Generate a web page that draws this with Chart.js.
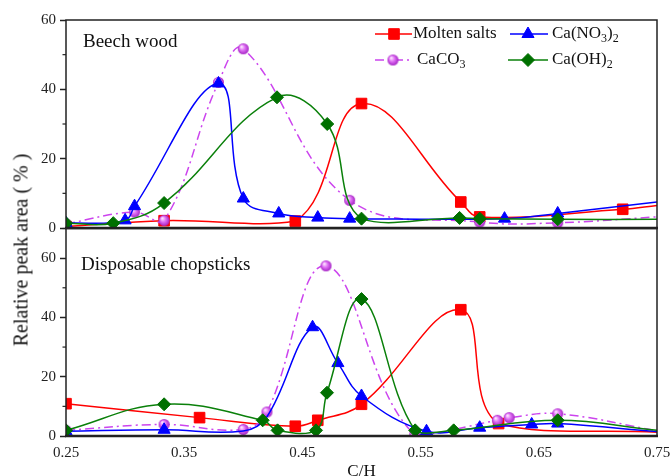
<!DOCTYPE html>
<html><head><meta charset="utf-8">
<script src="https://cdn.jsdelivr.net/npm/chart.js@4/dist/chart.umd.min.js"></script>
<style>
html,body{margin:0;padding:0;background:#fff;}
#wrap{position:relative;width:670px;height:476px;overflow:hidden;font-family:"Liberation Serif","Times New Roman",serif;}
#c1{position:absolute;left:0;top:0;width:670px;height:240px;}
#c2{position:absolute;left:0;top:220px;width:670px;height:256px;}
#ytitle{position:absolute;left:21px;top:250px;transform:translate(-50%,-50%) rotate(-90deg);white-space:pre;font-size:20px;color:#111;}
</style></head>
<body><div id="wrap">
<canvas id="c1" width="670" height="240"></canvas>
<canvas id="c2" width="670" height="256"></canvas>
<div id="ytitle">Relative peak area ( % )</div>
</div>
<script>
// ---------- data ----------
const xTickValues = [0.25, 0.35, 0.45, 0.55, 0.65, 0.75];
const yMajorTicks = [0, 20, 40, 60];
const yMinorTop = [10, 30, 50];
const yMinorBottom = [10, 30, 50, 70];
const seriesNames = ['Molten salts', 'Ca(NO3)2', 'CaCO3', 'Ca(OH)2'];

// Beech wood (top panel)
const beechMoltenX = [0.25, 0.333, 0.444, 0.50, 0.584, 0.60, 0.721, 0.75];
const beechMoltenY = [0.4, 2.1, 2.0, 35.9, 7.5, 3.2, 5.4, 6.5];
const beechNitrateX = [0.25, 0.30, 0.308, 0.379, 0.40, 0.43, 0.463, 0.49, 0.621, 0.666, 0.75];
const beechNitrateY = [1.4, 2.2, 6.3, 41.7, 8.5, 4.2, 3.0, 2.7, 2.7, 4.2, 7.5];
const beechCarbonateX = [0.25, 0.308, 0.333, 0.379, 0.40, 0.49, 0.60, 0.666, 0.75];
const beechCarbonateY = [1.2, 4.6, 2.2, 42.0, 51.7, 8.0, 1.7, 1.5, 3.2];
const beechHydroxideX = [0.25, 0.29, 0.333, 0.4285, 0.471, 0.50, 0.583, 0.60, 0.666, 0.75];
const beechHydroxideY = [1.4, 1.4, 7.2, 37.7, 30.0, 2.7, 2.9, 2.7, 2.5, 2.5];

// Disposable chopsticks (bottom panel)
const chopMoltenX = [0.25, 0.363, 0.444, 0.463, 0.50, 0.584, 0.616, 0.75];
const chopMoltenY = [10.9, 6.2, 3.3, 5.3, 10.7, 42.6, 4.2, 1.3];
const chopNitrateX = [0.25, 0.333, 0.40, 0.42, 0.4586, 0.48, 0.50, 0.555, 0.60, 0.644, 0.666, 0.75];
const chopNitrateY = [1.6, 2.1, 1.7, 6.5, 36.7, 24.6, 13.5, 1.6, 2.8, 3.9, 4.2, 1.5];
const chopCarbonateX = [0.25, 0.333, 0.40, 0.42, 0.47, 0.545, 0.615, 0.625, 0.666, 0.75];
const chopCarbonateY = [1.9, 3.9, 2.2, 8.1, 57.4, 0.5, 5.3, 6.2, 7.5, 1.8];
const chopHydroxideX = [0.25, 0.333, 0.4164, 0.429, 0.4615, 0.4708, 0.50, 0.5454, 0.578, 0.666, 0.75];
const chopHydroxideY = [1.9, 10.7, 5.3, 1.9, 1.9, 14.6, 46.2, 1.9, 1.9, 5.3, 1.9];
// points whose markers are covered in the picture (line passes through, no marker shown)
const unmarkedX = [0.75];
const chopNitrateUnmarkedX = [0.40, 0.42, 0.75];

// ---------- styling ----------
const FONT = '"Liberation Serif","Times New Roman",serif';
const RED = '#ff0000', BLUE = '#0000ff', PINK = '#cc44ee', GREEN = '#0a800a', GREEN_FILL = '#007000';
const AXIS = '#222';

function sphere(r) {
  const s = Math.ceil(r * 2) + 2;
  const c = document.createElement('canvas');
  c.width = s; c.height = s;
  const g = c.getContext('2d');
  const cx = s / 2, cy = s / 2;
  const grad = g.createRadialGradient(cx - r * 0.35, cy - r * 0.4, r * 0.1, cx, cy, r);
  grad.addColorStop(0, '#fde6ff');
  grad.addColorStop(0.45, '#e070f5');
  grad.addColorStop(1, '#a526c4');
  g.fillStyle = grad;
  g.beginPath(); g.arc(cx, cy, r, 0, Math.PI * 2); g.fill();
  return c;
}
const SPHERE = sphere(5.5);

function pts(xs, ys) { return xs.map((x, i) => ({ x: x, y: ys[i] })); }
const radiusFn = (r, hidden) => (ctx) => (ctx.raw && hidden.includes(ctx.raw.x) ? 0 : r);

function datasets(mx, my, nx, ny, cx, cy, hx, hy, nHidden) {
  const common = { tension: 0.4, borderWidth: 1.5, fill: false, pointBorderWidth: 1 };
  return [
    Object.assign({ label: seriesNames[3], data: pts(hx, hy), borderColor: GREEN, backgroundColor: GREEN_FILL,
      pointBorderColor: GREEN_FILL, pointStyle: 'rectRot', pointRadius: radiusFn(6.5, unmarkedX) }, common),
    Object.assign({ label: seriesNames[1], data: pts(nx, ny), borderColor: BLUE, backgroundColor: BLUE,
      pointBorderColor: BLUE, pointStyle: 'triangle', pointRadius: radiusFn(7, nHidden) }, common),
    Object.assign({ label: seriesNames[2], data: pts(cx, cy), borderColor: PINK, backgroundColor: PINK,
      pointStyle: SPHERE, pointRadius: radiusFn(5.5, unmarkedX), borderDash: [9, 4, 2, 4] }, common),
    Object.assign({ label: seriesNames[0], data: pts(mx, my), borderColor: RED, backgroundColor: RED,
      pointBorderColor: RED, pointStyle: 'rect', pointRadius: radiusFn(7.5, unmarkedX) }, common),
  ];
}

function drawRich(ctx, parts, x, y, size) {
  let cx = x;
  for (const [t, sub] of parts) {
    ctx.font = (sub ? Math.round(size * 0.68) : size) + 'px ' + FONT;
    ctx.fillText(t, cx, sub ? y + size * 0.3 : y);
    cx += ctx.measureText(t).width;
  }
}

const framePlugin = {
  id: 'frame',
  afterDatasetsDraw(chart, args, opts) {
    const { ctx, chartArea: a } = chart;
    const ys = chart.scales.y;
    ctx.save();
    ctx.strokeStyle = AXIS;
    ctx.lineWidth = 1.5;
    ctx.strokeRect(a.left, a.top, a.right - a.left, a.bottom - a.top);
    ctx.lineWidth = 2.4;
    ctx.beginPath(); ctx.moveTo(a.left - 1, a.bottom); ctx.lineTo(a.right + 1, a.bottom); ctx.stroke();
    ctx.lineWidth = 1.2;
    for (const v of opts.minor || []) {
      const py = ys.getPixelForValue(v);
      ctx.beginPath(); ctx.moveTo(a.left - 3.5, py); ctx.lineTo(a.left, py); ctx.stroke();
    }
    ctx.fillStyle = '#111';
    ctx.textBaseline = 'middle';
    ctx.textAlign = 'left';
    if (opts.label) {
      ctx.font = '19px ' + FONT;
      ctx.fillText(opts.label, opts.labelX, opts.labelY);
    }
    if (opts.legend) {
      const items = [
        { x0: 375, x1: 412, mx: 394, y: 34, color: RED, style: 'rect', r: 7.5, text: [['Molten salts', 0]], tx: 413 },
        { x0: 510, x1: 548, mx: 528, y: 34, color: BLUE, style: 'triangle', r: 7, text: [['Ca(NO', 0], ['3', 1], [')', 0], ['2', 1]], tx: 552 },
        { x0: 375, x1: 412, mx: 393, y: 60, color: PINK, style: SPHERE, r: 5.5, dash: [9, 4, 2, 4], text: [['CaCO', 0], ['3', 1]], tx: 417 },
        { x0: 508, x1: 548, mx: 528, y: 60, color: GREEN, fill: GREEN_FILL, style: 'rectRot', r: 6.5, text: [['Ca(OH)', 0], ['2', 1]], tx: 552 },
      ];
      for (const it of items) {
        ctx.save();
        ctx.strokeStyle = it.color; ctx.lineWidth = 1.5;
        ctx.setLineDash(it.dash || []);
        ctx.beginPath(); ctx.moveTo(it.x0, it.y); ctx.lineTo(it.x1, it.y); ctx.stroke();
        ctx.setLineDash([]);
        ctx.fillStyle = it.fill || it.color; ctx.strokeStyle = it.fill || it.color; ctx.lineWidth = 1;
        Chart.helpers.drawPoint(ctx, { pointStyle: it.style, radius: it.r, borderWidth: 1, rotation: 0 }, it.mx, it.y);
        ctx.restore();
        ctx.fillStyle = '#111'; ctx.textBaseline = 'middle'; ctx.textAlign = 'left';
        drawRich(ctx, it.text, it.tx, it.y, 17);
      }
    }
    ctx.restore();
  }
};

function yScale(max) {
  return {
    type: 'linear', min: 0, max: max,
    afterBuildTicks: (s) => { s.ticks = yMajorTicks.map(v => ({ value: v })); },
    ticks: { font: { family: FONT, size: 15 }, color: AXIS, padding: 4, callback: (v) => String(v) },
    grid: { drawOnChartArea: false, drawTicks: true, tickLength: 6, tickWidth: 1.5, tickColor: AXIS },
    border: { display: false },
    afterFit: (s) => { s.width = 66; s.paddingTop = 0; s.paddingBottom = 0; }
  };
}

Chart.defaults.animation = false;

new Chart(document.getElementById('c1'), {
  type: 'line',
  data: { datasets: datasets(beechMoltenX, beechMoltenY, beechNitrateX, beechNitrateY,
    beechCarbonateX, beechCarbonateY, beechHydroxideX, beechHydroxideY, unmarkedX) },
  options: {
    responsive: false, animation: false,
    layout: { padding: { left: 0, right: 13, top: 20, bottom: 0 } },
    plugins: { legend: { display: false }, tooltip: { enabled: false },
      frame: { minor: yMinorTop, label: 'Beech wood', labelX: 83, labelY: 42, legend: true } },
    scales: {
      x: { type: 'linear', min: 0.25, max: 0.75, ticks: { display: false },
        grid: { display: false, drawTicks: false }, border: { display: false },
        afterFit: (s) => { s.height = 12; s.paddingLeft = 0; s.paddingRight = 0; } },
      y: yScale(60)
    }
  },
  plugins: [framePlugin]
});

new Chart(document.getElementById('c2'), {
  type: 'line',
  data: { datasets: datasets(chopMoltenX, chopMoltenY, chopNitrateX, chopNitrateY,
    chopCarbonateX, chopCarbonateY, chopHydroxideX, chopHydroxideY, chopNitrateUnmarkedX) },
  options: {
    responsive: false, animation: false,
    layout: { padding: { left: 0, right: 13, top: 8, bottom: 0 } },
    plugins: { legend: { display: false }, tooltip: { enabled: false },
      frame: { minor: yMinorBottom, label: 'Disposable chopsticks', labelX: 81, labelY: 45 } },
    scales: {
      x: { type: 'linear', min: 0.25, max: 0.75,
        afterBuildTicks: (s) => { s.ticks = xTickValues.map(v => ({ value: v })); },
        ticks: { font: { family: FONT, size: 15 }, color: AXIS, padding: 8, maxRotation: 0, autoSkip: false,
          callback: (v) => Number(v).toFixed(2) },
        grid: { display: false, drawTicks: false }, border: { display: false },
        title: { display: true, text: 'C/H', font: { family: FONT, size: 17 }, color: '#111', padding: { top: 0, bottom: -6 } },
        afterFit: (s) => { s.height = 40; s.paddingLeft = 0; s.paddingRight = 0; } },
      y: yScale(70)
    }
  },
  plugins: [framePlugin]
});
</script>
</body></html>
